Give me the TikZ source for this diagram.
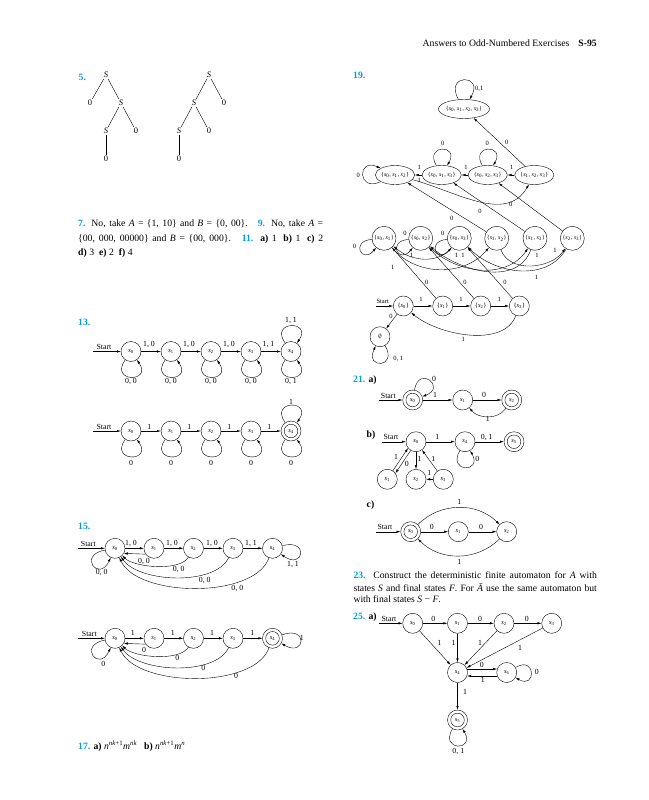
\documentclass[tikz,border=0pt]{standalone}
\usepackage{fontspec}
\setmainfont{Liberation Serif}
\usetikzlibrary{arrows.meta,shapes.geometric}
\definecolor{numblue}{RGB}{0,160,224}
\newcommand\ssub[1]{\textit{s}\textsubscript{#1}}
\newcommand\qn[1]{\textcolor{numblue}{\textbf{#1}}}
\begin{document}
\begin{tikzpicture}[x=1pt,y=-1pt,line width=0.4pt,>={Latex[length=4pt,width=2.4pt]},
  stn/.style={circle,draw,minimum size=20pt,inner sep=0pt,font=\fontsize{6.5}{7}\selectfont},
  bigst/.style={circle,draw,minimum size=24pt,inner sep=0pt,font=\fontsize{6}{7}\selectfont},
  ell/.style={ellipse,draw,minimum width=37pt,minimum height=19pt,inner sep=0pt,font=\fontsize{6}{7}\selectfont},
  acc/.style={path picture={\draw (path picture bounding box.center) circle (6.8pt);}},
  lbl/.style={font=\fontsize{7.8}{8}\selectfont,inner sep=0.5pt},
  lbs/.style={font=\fontsize{6.5}{7}\selectfont,inner sep=0.5pt},
  tr/.style={font=\fontsize{8.5}{9}\selectfont,inner sep=1pt},
  txt/.style={font=\fontsize{9.7}{11}\selectfont,inner sep=0pt,anchor=west},
  lp/.style={looseness=1,min distance=#1}]
\fill[white] (0,0) rectangle (648,800);
\useasboundingbox (0,0) rectangle (648,800);

% header
\node[txt,anchor=east] (hdr) at (597,43.3) {Answers to Odd-Numbered Exercises\hspace{9pt}\textbf{S-95}};

% ---------- 5
\node[txt] (q5) at (78.5,77.7) {\qn{5.}};
\node[tr] (pa1) at (106,75) {\textit{S}};
\node[tr] (pa2) at (90,103) {0};
\node[tr] (pa3) at (121,103) {\textit{S}};
\node[tr] (pa4) at (106,131) {\textit{S}};
\node[tr] (pa5) at (136,131) {0};
\node[tr] (pa6) at (106,159) {0};
\draw (pa1) -- (pa2); \draw (pa1) -- (pa3); \draw (pa3) -- (pa4); \draw (pa3) -- (pa5); \draw (pa4) -- (pa6);
\node[tr] (pb1) at (209,75) {\textit{S}};
\node[tr] (pb2) at (194,103) {\textit{S}};
\node[tr] (pb3) at (224,103) {0};
\node[tr] (pb4) at (179,131) {\textit{S}};
\node[tr] (pb5) at (209,131) {0};
\node[tr] (pb6) at (179,159) {0};
\draw (pb1) -- (pb2); \draw (pb1) -- (pb3); \draw (pb2) -- (pb4); \draw (pb2) -- (pb5); \draw (pb4) -- (pb6);

% ---------- 7, 9, 11
\node[txt] (p7a) at (78,224.3) {\makebox[245pt][s]{\qn{7.} No, take \textit{A} = \{1, 10\} and \textit{B} = \{0, 00\}.\hspace{4pt} \qn{9.} No, take \textit{A} =}};
\node[txt] (p7b) at (78,239) {\makebox[245pt][s]{\{00, 000, 00000\} and \textit{B} = \{00, 000\}.\hspace{4pt} \qn{11.} \textbf{a)} 1\hspace{3pt} \textbf{b)} 1\hspace{3pt} \textbf{c)} 2}};
\node[txt] (p7c) at (78,253.3) {\textbf{d)} 3\hspace{5pt}\textbf{e)} 2\hspace{5pt}\textbf{f)} 4};

% ---------- 13
\node[txt] (q13) at (78,322) {\qn{13.}};
\foreach \i/\x in {0/131,1/171,2/211,3/251,4/291}{\node[stn] (t\i) at (\x,351.5) {\ssub{\i}};}
\coordinate (t13s) at (93,351.5);
\draw[->] (t13s) -- (t0); \node[lbl] (Lt13s) at (104,346.5) {Start};
\draw[->] (t0) -- (t1); \draw[->] (t1) -- (t2); \draw[->] (t2) -- (t3); \draw[->] (t3) -- (t4);
\node[lbl] (Lte1) at (149,345) {1, 0};
\node[lbl] (Lte2) at (189,345) {1, 0};
\node[lbl] (Lte3) at (229,345) {1, 0};
\node[lbl] (Lte4) at (268.5,345) {1, 1};
\foreach \i in {0,...,4}{\draw[->] (t\i) to[out=-125,in=-55,lp=28pt] (t\i);}
\draw[->] (t4) to[out=125,in=55,lp=28pt] (t4);
\foreach \i/\x in {0/131,1/171,2/211,3/251}{\node[lbl] (Ltb\i) at (\x,381.5) {0, 0};}
\node[lbl] (Ltb4) at (291,381.5) {0, 1};
\node[lbl] (Ltt4) at (291,320.5) {1, 1};

\foreach \i/\x in {0/131,1/171,2/211,3/251}{\node[stn] (u\i) at (\x,431) {\ssub{\i}};}
\node[stn,acc] (u4) at (291,431) {\ssub4};
\coordinate (u13s) at (93,431);
\draw[->] (u13s) -- (u0); \node[lbl] (Lu13s) at (104,426.5) {Start};
\draw[->] (u0) -- (u1); \draw[->] (u1) -- (u2); \draw[->] (u2) -- (u3); \draw[->] (u3) -- (u4);
\foreach \j/\x in {1/149.3,2/189.3,3/229.3,4/269.3}{\node[lbl] (Lue\j) at (\x,426.7) {1};}
\foreach \i in {0,...,4}{\draw[->] (u\i) to[out=-125,in=-55,lp=28pt] (u\i);}
\draw[->] (u4) to[out=125,in=55,lp=28pt] (u4);
\foreach \i/\x in {0/131,1/171,2/211,3/251,4/291}{\node[lbl] (Lub\i) at (\x,462.7) {0};}
\node[lbl] (Lut4) at (291,401.7) {1};

% ---------- 15
\node[txt] (q15) at (78,526.7) {\qn{15.}};
\foreach \i/\x in {0/115,1/154,2/193.5,3/233,4/272.5}{\node[stn] (v\i) at (\x,548.3) {\ssub{\i}};}
\coordinate (v15s) at (77.7,548.3);
\draw[->] (v15s) -- (v0); \node[lbl] (Lv15s) at (88.3,543.8) {Start};
\draw[->] (v0) -- (v1); \draw[->] (v1) -- (v2); \draw[->] (v2) -- (v3); \draw[->] (v3) -- (v4);
\node[lbl] (Lve1) at (131,543.3) {1, 0};
\node[lbl] (Lve2) at (172,543.3) {1, 0};
\node[lbl] (Lve3) at (212,543.3) {1, 0};
\node[lbl] (Lve4) at (251,543.3) {1, 1};
\draw[->] (v0) to[out=190,in=245,lp=28pt] (v0); \node[lbl] (Lvl0) at (101.7,572) {0, 0};
\draw[->] (v4) to[out=15,in=-35,lp=28pt] (v4); \node[lbl] (Lvl4) at (293,565) {1, 1};
\draw[->] (v1.215) -- (v0.-30); \node[lbl] (Lvb1) at (144,561.7) {0, 0};
\draw[->] (v2) to[out=240,in=-45,looseness=0.65] (v0); \node[lbl] (Lvb2) at (178.7,569) {0, 0};
\draw[->] (v3) to[out=245,in=-55,looseness=0.75] (v0); \node[lbl] (Lvb3) at (204.7,580) {0, 0};
\draw[->] (v4) to[out=250,in=-65,looseness=0.75] (v0); \node[lbl] (Lvb4) at (237.3,588.7) {0, 0};

\foreach \i/\x in {0/115,1/154,2/193.5,3/233}{\node[stn] (w\i) at (\x,638.3) {\ssub{\i}};}
\node[stn,acc] (w4) at (272.5,638.3) {\ssub4};
\coordinate (w15s) at (77.7,638.3);
\draw[->] (w15s) -- (w0); \node[lbl] (Lw15s) at (89.3,633.8) {Start};
\draw[->] (w0) -- (w1); \draw[->] (w1) -- (w2); \draw[->] (w2) -- (w3); \draw[->] (w3) -- (w4);
\foreach \j/\x in {1/132.7,2/172.7,3/212,4/252.3}{\node[lbl] (Lwe\j) at (\x,633) {1};}
\draw[->] (w0) to[out=190,in=245,lp=28pt] (w0); \node[lbl] (Lwl0) at (103.3,664) {0};
\draw[->] (w4) to[out=20,in=-30,lp=28pt] (w4); \node[lbl] (Lwl4) at (301.7,638.3) {1};
\draw[->] (w1.215) -- (w0.-30); \node[lbl] (Lwb1) at (144,650) {0};
\draw[->] (w2) to[out=240,in=-45,looseness=0.65] (w0); \node[lbl] (Lwb2) at (177.3,657.7) {0};
\draw[->] (w3) to[out=245,in=-55,looseness=0.75] (w0); \node[lbl] (Lwb3) at (203.3,667.7) {0};
\draw[->] (w4) to[out=250,in=-65,looseness=0.75] (w0); \node[lbl] (Lwb4) at (236,676) {0};

% ---------- 17
\node[txt] (p17) at (78,746) {\qn{17.} \textbf{a)} \textit{n}\textsuperscript{\textit{nk}+1}\textit{m}\textsuperscript{\textit{nk}}\hspace{7pt}\textbf{b)} \textit{n}\textsuperscript{\textit{nk}+1}\textit{m}\textsuperscript{\textit{n}}};

% ---------- 19
\node[txt] (q19) at (353,75.7) {\qn{19.}};
\node[ell,minimum width=45pt] (T) at (464,109) {\{\ssub0, \ssub1, \ssub2, \ssub3\}};
\node[ell] (E1) at (395,175) {\{\ssub0, \ssub1, \ssub2\}};
\node[ell] (E2) at (441.7,175) {\{\ssub0, \ssub1, \ssub3\}};
\node[ell] (E3) at (487.7,175) {\{\ssub0, \ssub2, \ssub3\}};
\node[ell] (E4) at (534.3,175) {\{\ssub1, \ssub2, \ssub3\}};
\draw[->] (T) to[out=120,in=60,lp=30pt] (T); \node[lbs] (LT) at (479.3,89.3) {0,1};
\draw[->] (E1) to[out=-155,in=155,lp=26pt] (E1); \node[lbs] (LE1) at (358.3,175) {0};
\draw[->] (E2) to[out=120,in=60,lp=25pt] (E2); \node[lbs] (LE2) at (442.7,143.3) {0};
\draw[->] (E3) to[out=120,in=60,lp=25pt] (E3); \node[lbs] (LE3) at (487.3,143.3) {0};
\draw[->] (E2) -- (E1); \node[lbs] (LE21) at (419.3,167.3) {1};
\draw[->] (E3) -- (E2); \node[lbs] (LE32) at (466,167.3) {1};
\draw[->] (E4) -- (E3); \node[lbs] (LE43) at (511.7,167.3) {1};
\draw[->] (E1) to[out=-15,in=-120] (E4); \node[lbs] (LE14) at (419.3,180.7) {1};
\draw[->] (E4) -- (T); \node[lbs] (LE4T) at (506.7,142.7) {0};

\node[bigst] (C1) at (384,238.3) {\{\ssub0, \ssub1\}};
\node[bigst] (C2) at (420.7,238.3) {\{\ssub0, \ssub2\}};
\node[bigst] (C3) at (459.3,238.3) {\{\ssub0, \ssub3\}};
\node[bigst] (C4) at (496.7,238.3) {\{\ssub1, \ssub2\}};
\node[bigst] (C5) at (535,238.3) {\{\ssub1, \ssub3\}};
\node[bigst] (C6) at (572.3,238.3) {\{\ssub2, \ssub3\}};
\draw[->] (C4) -- (E1); \node[lbs] (LC4) at (451.7,218.3) {0};
\draw[->] (C5) -- (E2); \node[lbs] (LC5) at (480,211.7) {0};
\draw[->] (C6) -- (E3); \node[lbs] (LC6) at (510.7,204.3) {0};
\draw[->] (C1) to[out=185,in=230,lp=22pt] (C1); \node[lbs] (LC1l) at (354.5,246.7) {0};
\draw[->] (C2) to[out=185,in=230,lp=22pt] (C2); \node[lbs] (LC2l) at (405,233.3) {0};
\draw[->] (C3) to[out=185,in=230,lp=22pt] (C3); \node[lbs] (LC3l) at (442.7,233.3) {0};
\draw[->] (C1) to[out=-50,in=-130] (C4);
\draw[->] (C2) to[out=-45,in=-125] (C5);
\draw[->] (C3) to[out=-130,in=-40] (C1);
\draw[->] (C4) to[out=-70,in=-125] (C6);
\draw[->] (C5) to[out=-110,in=-40] (C2);
\draw[->] (C6) to[out=-120,in=-45] (C3);
\node[lbs] (LcA) at (392.7,267.3) {1};
\node[lbs] (LcB) at (411.7,255.5) {1};
\node[lbs] (LcC) at (456.5,255) {1};
\node[lbs] (LcD) at (463,255) {1};
\node[lbs] (LcE) at (537,255) {1};
\node[lbs] (LcF) at (555,250) {1};
\node[lbs] (LcG) at (536.5,277.5) {1};

\node[stn] (R0) at (403.3,306) {\{\ssub0\}};
\node[stn] (R1) at (442.7,306) {\{\ssub1\}};
\node[stn] (R2) at (480.7,306) {\{\ssub2\}};
\node[stn] (R3) at (519.3,306) {\{\ssub3\}};
\node[stn] (Z) at (380,336.7) {$\emptyset$};
\coordinate (R19s) at (376,306);
\draw[->] (R19s) -- (R0); \node[lbs] (LR19s) at (382.7,301) {Start};
\draw[->] (R0) -- (R1); \node[lbs] (LR01) at (421,299.3) {1};
\draw[->] (R1) -- (R2); \node[lbs] (LR12) at (461,299.3) {1};
\draw[->] (R2) -- (R3); \node[lbs] (LR23) at (499.3,299.3) {1};
\draw[->] (R1) -- (C1); \node[lbs] (LR1C) at (426.7,282.7) {0};
\draw[->] (R2) -- (C2); \node[lbs] (LR2C) at (465,282.7) {0};
\draw[->] (R3) -- (C3); \node[lbs] (LR3C) at (505,282.7) {0};
\draw[->] (R3) to[out=-110,in=-40,looseness=0.85] (R0); \node[lbs] (LR30) at (463.3,339.3) {1};
\draw[->] (R0) -- (Z); \node[lbs] (LR0Z) at (391,316.7) {0};
\draw[->] (Z) to[out=-60,in=-115,lp=26pt] (Z); \node[lbs] (LZ) at (398.3,359.3) {0, 1};

% ---------- 21
\node[txt] (q21) at (353,380) {\qn{21.} \textbf{a)}};
\node[stn,acc] (xa0) at (412.7,400) {\ssub0};
\node[stn] (xa1) at (462.7,400) {\ssub1};
\node[stn,acc] (xa2) at (511.7,400) {\ssub2};
\coordinate (xas) at (379.3,400);
\draw[->] (xas) -- (xa0); \node[lbl] (Lxas) at (388.3,395.5) {Start};
\draw[->] (xa0) to[out=80,in=20,lp=26pt] (xa0); \node[lbl] (Lxa0) at (434,379.3) {0};
\draw[->] (xa0) -- (xa1); \node[lbl] (Lxa01) at (435,395) {1};
\draw[->] (xa1) -- (xa2); \node[lbl] (Lxa12) at (484,395) {0};
\draw[->] (xa2) to[out=-125,in=-50] (xa1); \node[lbl] (Lxa21) at (487.7,419.3) {1};

\node[txt] (q21b) at (366.5,435) {\textbf{b)}};
\node[stn] (xb0) at (416,441.7) {\ssub0};
\node[stn] (xb4) at (465,441.7) {\ssub4};
\node[stn,acc] (xb5) at (514,441.7) {\ssub5};
\node[stn] (xb1) at (387.3,479.3) {\ssub1};
\node[stn] (xb2) at (416,479.3) {\ssub2};
\node[stn] (xb3) at (443.3,479.3) {\ssub3};
\coordinate (xbs) at (381.7,441.7);
\draw[->] (xbs) -- (xb0); \node[lbl] (Lxbs) at (391,437) {Start};
\draw[->] (xb0) -- (xb4); \node[lbl] (Lxb04) at (437.3,437.3) {1};
\draw[->] (xb4) -- (xb5); \node[lbl] (Lxb45) at (486.7,437.3) {0, 1};
\draw[->] (xb4) to[out=-120,in=-60,lp=26pt] (xb4); \node[lbl] (Lxb4) at (477.3,459.3) {0};
\draw[->] (xb1.57) -- (xb0.219); \node[lbl] (Lxb10) at (396,456.7) {1};
\draw[->] (xb0.239) -- (xb1.37); \node[lbl] (Lxb01) at (406.7,464) {0};
\draw[->] (xb0) -- (xb2); \node[lbl] (Lxb02) at (419.5,459) {1};
\draw[->] (xb3) -- (xb2); \node[lbl] (Lxb32) at (429.3,473.3) {1};
\draw[->] (xb3) -- (xb0); \node[lbl] (Lxb30) at (433.3,459) {1};

\node[txt] (q21c) at (366.5,505) {\textbf{c)}};
\node[stn,acc] (xc0) at (410.7,531.7) {\ssub0};
\node[stn] (xc1) at (458.3,531.7) {\ssub1};
\node[stn] (xc2) at (506.7,531.7) {\ssub2};
\coordinate (xcs) at (376,531.7);
\draw[->] (xcs) -- (xc0); \node[lbl] (Lxcs) at (385,527) {Start};
\draw[->] (xc0) -- (xc1); \node[lbl] (Lxc01) at (431.7,526.7) {0};
\draw[->] (xc1) -- (xc2); \node[lbl] (Lxc12) at (481,526.7) {0};
\draw[->] (xc0) to[out=45,in=135] (xc2); \node[lbl] (Lxc02) at (459.3,501.7) {1};
\draw[->] (xc2) to[out=-135,in=-45] (xc0); \node[lbl] (Lxc20) at (459.3,561.7) {1};

% ---------- 23
\node[txt] (p23a) at (353.3,575) {\makebox[243.4pt][s]{\qn{23.} Construct the deterministic finite automaton for \textit{A} with}};
\node[txt] (p23b) at (353.3,587.3) {\makebox[243.4pt][s]{states \textit{S} and final states \textit{F}. For \textit{\=A} use the same automaton but}};
\node[txt] (p23c) at (353.3,599) {with final states \textit{S} − \textit{F}.};

% ---------- 25
\node[txt] (q25) at (353,616.7) {\qn{25.} \textbf{a)}};
\node[stn] (d0) at (412.7,623.3) {\ssub0};
\node[stn] (d1) at (457.5,623.3) {\ssub1};
\node[stn] (d2) at (504,623.3) {\ssub2};
\node[stn] (d3) at (551.7,623.3) {\ssub3};
\node[stn] (d4) at (457.5,672.5) {\ssub4};
\node[stn] (d6) at (506.7,672.5) {\ssub6};
\node[stn,acc] (d5) at (457.5,720) {\ssub5};
\coordinate (ds) at (379.3,623.3);
\draw[->] (ds) -- (d0); \node[lbl] (Lds) at (389,619) {Start};
\draw[->] (d0) -- (d1); \node[lbl] (Ld01) at (433.3,619.3) {0};
\draw[->] (d1) -- (d2); \node[lbl] (Ld12) at (480,619.3) {0};
\draw[->] (d2) -- (d3); \node[lbl] (Ld23) at (526.7,619.3) {0};
\draw[->] (d0) -- (d4); \node[lbl] (Ld04) at (439.3,642.7) {1};
\draw[->] (d1) -- (d4); \node[lbl] (Ld14) at (453.5,643.3) {1};
\draw[->] (d2) -- (d4); \node[lbl] (Ld24) at (480,643.3) {1};
\draw[->] (d3) -- (d4); \node[lbl] (Ld34) at (520,648.3) {1};
\draw[->] (d4.20) -- (d6.160); \node[lbl] (Ld46) at (481.7,665) {0};
\draw[->] (d6.200) -- (d4.-20); \node[lbl] (Ld64) at (482.7,679.5) {1};
\draw[->] (d6) to[out=30,in=-30,lp=24pt] (d6); \node[lbl] (Ld6) at (536.7,671.7) {0};
\draw[->] (d4) -- (d5); \node[lbl] (Ld45) at (465,691.7) {1};
\draw[->] (d5) to[out=-120,in=-60,lp=26pt] (d5); \node[lbl] (Ld5) at (458.3,751.7) {0, 1};
\end{tikzpicture}
\end{document}
